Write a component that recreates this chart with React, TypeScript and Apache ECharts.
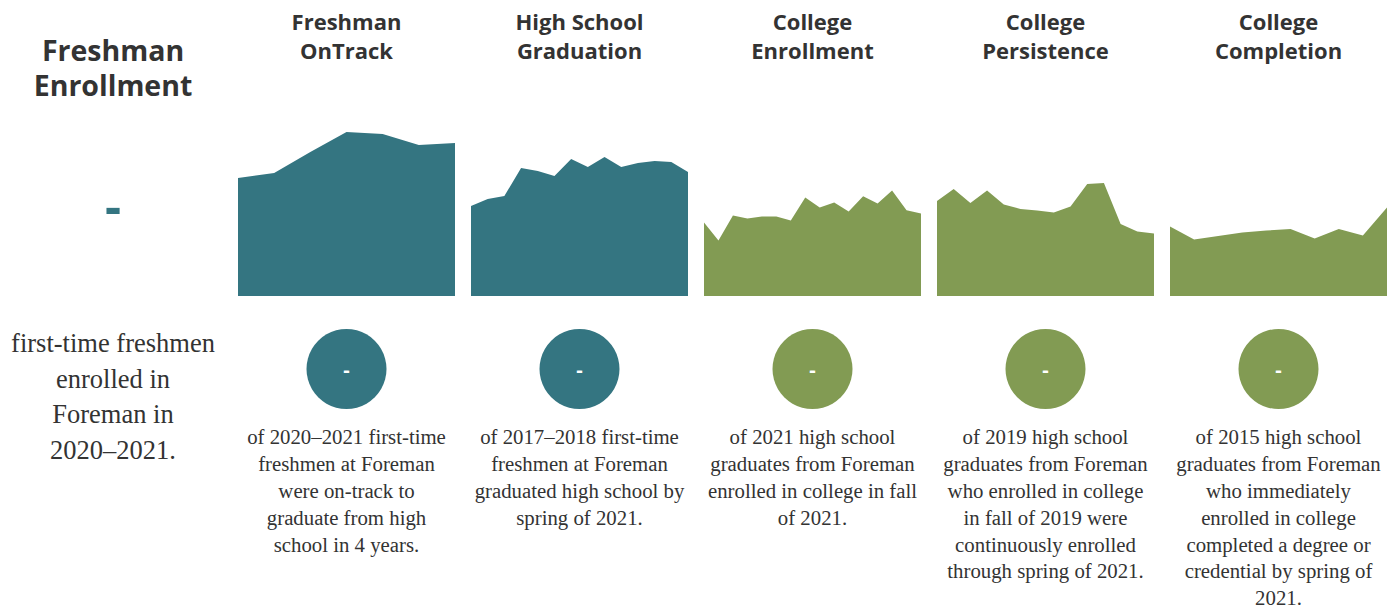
import React, { useEffect, useRef } from "react";
import * as echarts from "echarts";

const TEAL = "#347581";
const GREEN = "#829b53";
const TEXT = "#333333";
const HEAD_FONT = "'Open Sans', Lato, sans-serif";
const BODY_FONT = "'Liberation Serif', 'DejaVu Serif', serif";

const columnTitles = [
  "Freshman\nOnTrack",
  "High School\nGraduation",
  "College\nEnrollment",
  "College\nPersistence",
  "College\nCompletion",
];
const columnTexts = [
  "of 2020–2021 first-time\nfreshmen at Foreman\nwere on-track to\ngraduate from high\nschool in 4 years.",
  "of 2017–2018 first-time\nfreshmen at Foreman\ngraduated high school by\nspring of 2021.",
  "of 2021 high school\ngraduates from Foreman\nenrolled in college in fall\nof 2021.",
  "of 2019 high school\ngraduates from Foreman\nwho enrolled in college\nin fall of 2019 were\ncontinuously enrolled\nthrough spring of 2021.",
  "of 2015 high school\ngraduates from Foreman\nwho immediately\nenrolled in college\ncompleted a degree or\ncredential by spring of\n2021.",
];
const columnColors = [TEAL, TEAL, GREEN, GREEN, GREEN];
const circleValues = ["-", "-", "-", "-", "-"];

const ontrackValues = [59, 61.5, 72, 82, 81, 75.5, 76.5];
const gradValues = [45, 48.5, 50, 64, 62.5, 60, 68.5, 64.5, 69.5, 64.5, 66.5, 67.5, 67, 62];
const enrollValues = [36.7, 27.7, 40.2, 38.7, 39.7, 39.7, 37.7, 49.3, 44.3, 46.7, 42.2, 49.9, 46.2, 52.7, 42.9, 41.2];
const persistValues = [47.5, 53.5, 46.5, 52.7, 45.8, 43.5, 42.8, 41.8, 44.7, 56, 56.5, 36, 32.3, 31.2];
const completionValues = [34.8, 28.3, 30, 31.7, 32.7, 33.5, 28.8, 33.5, 30.2, 44.2];

const seriesValues = [ontrackValues, gradValues, enrollValues, persistValues, completionValues];

const leftTitle = "Freshman\nEnrollment";
const leftValue = "-";
const leftText = "first-time freshmen\nenrolled in\nForeman in\n2020–2021.";

export default function App() {
  const ref = useRef<HTMLDivElement>(null);

  useEffect(() => {
    if (!ref.current) return;
    const chart = echarts.init(ref.current, null, { renderer: "svg" });

    const colLeft0 = 238;
    const colStep = 233;
    const colWidth = 217;

    const grids: any[] = [];
    const xAxes: any[] = [];
    const yAxes: any[] = [];
    const series: any[] = [];
    const graphics: any[] = [];

    seriesValues.forEach((vals, i) => {
      grids.push({
        left: colLeft0 + i * colStep,
        width: colWidth,
        top: 96,
        height: 200,
        containLabel: false,
      });
      xAxes.push({
        type: "category",
        gridIndex: i,
        data: vals.map((_, k) => String(k + 1)),
        boundaryGap: false,
        show: false,
      });
      yAxes.push({ type: "value", gridIndex: i, min: 0, max: 100, show: false });
      series.push({
        type: "line",
        xAxisIndex: i,
        yAxisIndex: i,
        data: vals,
        symbol: "none",
        lineStyle: { width: 0, color: columnColors[i] },
        areaStyle: { color: columnColors[i], opacity: 1 },
        silent: true,
      });

      const cx = colLeft0 + i * colStep + colWidth / 2;
      graphics.push({
        type: "text",
        x: cx,
        y: 21 - 14.25,
        style: {
          text: columnTitles[i],
          textAlign: "center",
          textVerticalAlign: "top",
          font: `bold 22px ${HEAD_FONT}`,
          lineHeight: 28.5,
          fill: TEXT,
        },
      });
      graphics.push({
        type: "circle",
        shape: { cx, cy: 369, r: 40 },
        style: { fill: columnColors[i] },
      });
      graphics.push({
        type: "text",
        x: cx,
        y: 369,
        style: {
          text: circleValues[i],
          textAlign: "center",
          textVerticalAlign: "middle",
          font: `bold 20px ${HEAD_FONT}`,
          fill: "#ffffff",
        },
      });
      graphics.push({
        type: "text",
        x: cx,
        y: 437 - 13.4,
        style: {
          text: columnTexts[i],
          textAlign: "center",
          textVerticalAlign: "top",
          font: `20.8px ${BODY_FONT}`,
          lineHeight: 26.8,
          fill: TEXT,
        },
      });
    });

    graphics.push({
      type: "text",
      x: 113,
      y: 50 - 17.5,
      style: {
        text: leftTitle,
        textAlign: "center",
        textVerticalAlign: "top",
        font: `bold 28.5px ${HEAD_FONT}`,
        lineHeight: 35,
        fill: TEXT,
      },
    });
    graphics.push({
      type: "text",
      x: 113,
      y: 205,
      style: {
        text: leftValue,
        textAlign: "center",
        textVerticalAlign: "middle",
        font: `bold 50px ${HEAD_FONT}`,
        fill: TEAL,
      },
    });
    graphics.push({
      type: "text",
      x: 113,
      y: 343 - 17.8,
      style: {
        text: leftText,
        textAlign: "center",
        textVerticalAlign: "top",
        font: `26.5px ${BODY_FONT}`,
        lineHeight: 35.6,
        fill: TEXT,
      },
    });

    chart.setOption({
      animation: false,
      backgroundColor: "#ffffff",
      grid: grids,
      xAxis: xAxes,
      yAxis: yAxes,
      series,
      graphic: graphics,
    });

    return () => chart.dispose();
  }, []);

  return (
    <div
      ref={ref}
      style={{ position: "fixed", left: 0, top: 0, width: 1396, height: 609 }}
    />
  );
}
